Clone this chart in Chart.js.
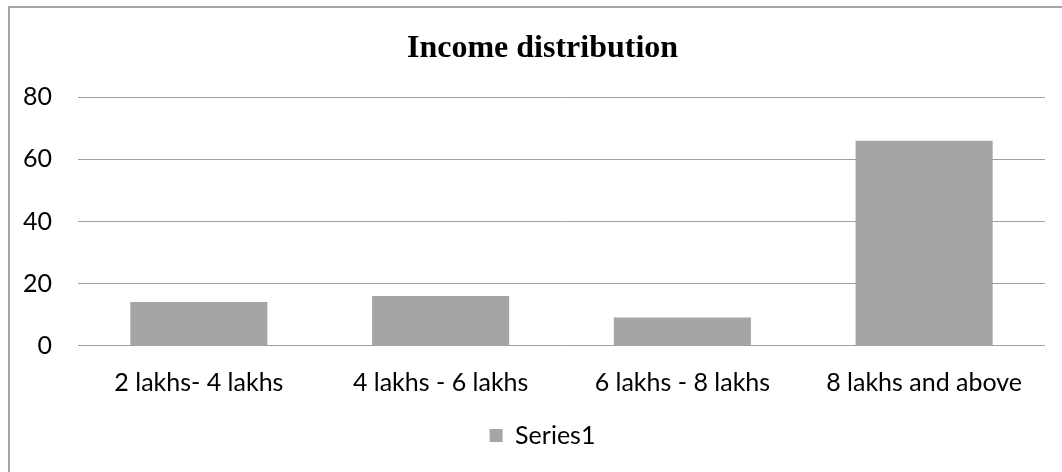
<!DOCTYPE html>
<html>
<head>
<meta charset="utf-8">
<script src="https://cdn.jsdelivr.net/npm/chart.js@4/dist/chart.umd.min.js"></script>
<style>
  html, body { margin: 0; padding: 0; background: #fff; overflow: hidden; }
  #wrap { position: relative; width: 1062px; height: 472px; }
  #frame { position: absolute; left: 8px; top: 6px; right: 0; bottom: 0;
           border-left: 2px solid #a6a6a6; border-top: 2px solid #a6a6a6; pointer-events: none; }
  canvas { position: absolute; left: 0; top: 0; }
</style>
</head>
<body>
<div id="wrap">
  <canvas id="c" width="1062" height="472"></canvas>
  <div id="frame"></div>
</div>
<script>
const chartTitle = "Income distribution";
const categories = ["2 lakhs- 4 lakhs", "4 lakhs - 6 lakhs", "6 lakhs - 8 lakhs", "8 lakhs and above"];
const seriesName = "Series1";
const seriesValues = [14, 16, 9, 66];
const yMin = 0, yMax = 80, yStep = 20;

const labelFont = { family: "Lato, 'Open Sans', sans-serif", size: 25 };

// let the y-axis labels extend to the left of the (narrow) y-axis box
const yLabelRoom = {
  id: 'yLabelRoom',
  afterLayout(chart) { chart.scales.y.left = 0; }
};

new Chart(document.getElementById('c'), {
  type: 'bar',
  data: {
    labels: categories,
    datasets: [{
      label: seriesName,
      data: seriesValues,
      backgroundColor: '#a5a5a5',
      borderWidth: 0,
      categoryPercentage: 1.0,
      barPercentage: 0.567
    }]
  },
  plugins: [yLabelRoom],
  options: {
    responsive: false,
    animation: false,
    devicePixelRatio: 1,
    layout: { padding: { top: 16, left: 40, right: 17, bottom: 14 } },
    plugins: {
      title: {
        display: true,
        text: chartTitle,
        color: '#000',
        font: { family: "'Liberation Serif', 'Times New Roman', serif", size: 32, weight: 'bold' },
        padding: { top: 14, bottom: 29 }
      },
      legend: {
        display: true,
        position: 'bottom',
        labels: {
          color: '#000',
          font: labelFont,
          boxWidth: 13,
          boxHeight: 13,
          padding: 10
        }
      },
      tooltip: { enabled: false }
    },
    scales: {
      x: {
        grid: { display: false, drawTicks: false },
        border: { display: false },
        ticks: { color: '#000', font: labelFont, padding: 22, maxRotation: 0 },
        afterFit(scale) { scale.paddingLeft = 0; scale.paddingRight = 0; scale.height = 67.5; }
      },
      y: {
        min: yMin,
        max: yMax,
        grid: { color: '#a0a0a0', lineWidth: 1, drawTicks: false },
        border: { display: false },
        ticks: { color: '#000', font: labelFont, stepSize: yStep, padding: 26 },
        afterFit(scale) { scale.width = 38; }
      }
    }
  }
});
</script>
</body>
</html>
